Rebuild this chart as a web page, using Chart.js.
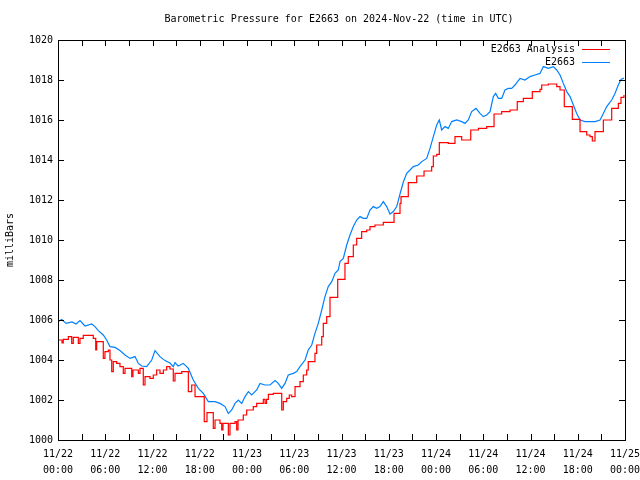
<!DOCTYPE html>
<html>
<head>
<meta charset="utf-8">
<script src="https://cdn.jsdelivr.net/npm/chart.js@4"></script>
<style>
  html, body { margin: 0; padding: 0; background: #fff; }
  canvas { display: block; }
</style>
</head>
<body>
<canvas id="chartPressure" width="640" height="480"></canvas>
<script>
// time axis: hours since 11/22 00:00 UTC
const dayLabels = ["11/22", "11/22", "11/22", "11/22", "11/23", "11/23", "11/23", "11/23", "11/24", "11/24", "11/24", "11/24", "11/25"];
const timeLabels = ["00:00", "06:00", "12:00", "18:00", "00:00", "06:00", "12:00", "18:00", "00:00", "06:00", "12:00", "18:00", "00:00"];
const yTicks = [1000, 1002, 1004, 1006, 1008, 1010, 1012, 1014, 1016, 1018, 1020];

// E2663 station readings
const stationHours = [
  0, 0.47, 1.02, 1.78, 2.29, 2.79, 3.43, 4.28, 4.70, 5.12, 5.75, 6.18, 6.60, 7.24, 7.87, 8.51,
  9.14, 9.78, 10.20, 10.63, 11.26, 11.90, 12.32, 12.95, 13.59, 14.22, 14.64, 14.86, 15.24, 15.91,
  16.55, 17.18, 17.82, 18.45, 19.09, 19.94, 20.57, 21.21, 21.63, 22.06, 22.48, 22.90, 23.33, 23.75,
  24.17, 24.60, 25.23, 25.65, 26.29, 26.92, 27.56, 27.97, 28.41, 28.83, 29.24, 29.88, 30.31, 30.73,
  31.37, 31.78, 32.22, 32.63, 33.05, 33.49, 33.90, 34.32, 34.76, 35.17, 35.59, 35.81, 36.23, 36.66,
  37.08, 37.50, 37.93, 38.35, 38.77, 39.20, 39.62, 40.04, 40.47, 40.89, 41.31, 41.74, 42.16, 42.58,
  43.01, 43.43, 43.85, 44.28, 44.70, 45.12, 45.75, 46.19, 46.82, 47.24, 47.66, 48.09, 48.42, 48.72,
  49.14, 49.56, 49.99, 50.63, 51.26, 51.68, 52.10, 52.53, 53.08, 53.59, 54.01, 54.44, 54.86, 55.28,
  55.58, 55.91, 56.34, 56.76, 57.18, 57.61, 58.03, 58.67, 59.30, 59.94, 60.57, 61.21, 61.63, 62.26,
  62.90, 63.33, 63.75, 64.17, 64.60, 65.02, 65.44, 65.87, 66.29, 66.92, 67.56, 68.19, 68.83, 69.25,
  69.68, 70.31, 70.73, 71.15, 71.49, 71.87
];
const stationValues = [
  1005.92, 1006.03, 1005.83, 1005.90, 1005.80, 1005.97, 1005.70, 1005.80, 1005.67, 1005.47, 1005.25, 1005.00, 1004.67, 1004.63, 1004.47, 1004.25,
  1004.08, 1004.17, 1003.83, 1003.70, 1003.67, 1004.00, 1004.47, 1004.17, 1003.97, 1003.85, 1003.67, 1003.87, 1003.70, 1003.83,
  1003.58, 1003.00, 1002.58, 1002.33, 1001.92, 1001.92, 1001.83, 1001.67, 1001.33, 1001.50, 1001.83, 1002.00, 1001.83, 1002.17,
  1002.42, 1002.25, 1002.50, 1002.83, 1002.75, 1002.75, 1002.97, 1002.83, 1002.58, 1002.83, 1003.25, 1003.33, 1003.42, 1003.67,
  1004.00, 1004.50, 1004.75, 1005.33, 1005.83, 1006.50, 1007.17, 1007.67, 1007.92, 1008.33, 1008.50, 1008.92, 1009.08, 1009.75,
  1010.25, 1010.67, 1011.00, 1011.17, 1011.08, 1011.08, 1011.50, 1011.67, 1011.58, 1011.67, 1011.92, 1011.67, 1011.30, 1011.42,
  1011.67, 1012.30, 1012.90, 1013.33, 1013.50, 1013.67, 1013.75, 1013.92, 1014.08, 1014.58, 1015.17, 1015.75, 1016.00, 1015.50,
  1015.67, 1015.58, 1015.92, 1016.00, 1015.92, 1015.83, 1016.00, 1016.42, 1016.58, 1016.33, 1016.17, 1016.25, 1016.42, 1017.17,
  1017.33, 1017.08, 1017.08, 1017.50, 1017.58, 1017.58, 1017.75, 1018.08, 1018.00, 1018.17, 1018.25, 1018.33, 1018.67, 1018.58,
  1018.67, 1018.50, 1018.25, 1017.83, 1017.42, 1017.17, 1016.75, 1016.33, 1016.00, 1015.92, 1015.92, 1015.92, 1016.00, 1016.33,
  1016.67, 1017.00, 1017.33, 1017.75, 1018.03, 1018.10
];

// E2663 analysis (stepped)
const analysisHours = [
  0, 0.51, 0.67, 1.31, 1.74, 1.94, 2.58, 2.79, 3.21, 4.48, 4.79, 4.91, 5.75, 5.96, 6.39, 6.60,
  6.82, 7.02, 7.45, 7.87, 8.29, 8.51, 9.36, 9.52, 10.20, 10.41, 10.83, 11.05, 11.68, 12.10, 12.53,
  12.95, 13.38, 13.80, 14.22, 14.64, 14.86, 15.71, 16.55, 16.98, 17.40, 18.57, 18.92, 19.72, 19.94,
  20.57, 20.79, 20.95, 21.63, 21.84, 22.48, 22.69, 22.86, 23.53, 23.96, 24.80, 25.23, 26.07, 26.29,
  26.48, 26.71, 27.34, 28.41, 28.61, 29.04, 29.37, 29.67, 30.10, 30.73, 31.15, 31.58, 31.78, 32.63,
  32.85, 33.49, 33.69, 34.12, 34.54, 35.52, 36.44, 36.86, 37.50, 37.93, 38.56, 39.20, 39.62, 40.25,
  41.31, 42.67, 43.43, 43.56, 44.48, 45.55, 46.48, 47.45, 47.66, 48.09, 48.42, 49.56, 50.41, 51.26,
  52.41, 53.38, 54.44, 55.37, 56.34, 57.40, 58.32, 59.09, 60.23, 61.21, 61.42, 62.26, 63.33, 63.75,
  64.29, 65.31, 66.29, 67.14, 67.56, 67.85, 68.19, 69.25, 70.31, 71.15, 71.49, 71.87
];
const analysisValues = [
  1005.00, 1004.85, 1005.03, 1005.17, 1004.83, 1005.13, 1004.83, 1005.08, 1005.23, 1005.08, 1004.50, 1004.92, 1004.08, 1004.42, 1004.50, 1004.00,
  1003.42, 1003.92, 1003.83, 1003.67, 1003.33, 1003.58, 1003.17, 1003.50, 1003.33, 1003.58, 1002.75, 1003.17, 1003.08, 1003.25, 1003.50,
  1003.33, 1003.50, 1003.67, 1003.55, 1002.95, 1003.33, 1003.42, 1002.42, 1002.75, 1002.17, 1000.92, 1001.37, 1000.58, 1001.00,
  1000.83, 1000.50, 1000.83, 1000.25, 1000.83, 1000.92, 1000.50, 1001.00, 1001.25, 1001.50, 1001.67, 1001.83, 1002.03, 1001.83,
  1002.03, 1002.28, 1002.33, 1001.50, 1001.92, 1002.08, 1002.25, 1002.17, 1002.67, 1002.92, 1003.25, 1003.50, 1003.92, 1004.33,
  1004.75, 1005.17, 1005.83, 1006.17, 1007.13, 1008.03, 1008.83, 1009.17, 1009.75, 1010.08, 1010.42, 1010.50, 1010.67, 1010.75,
  1010.88, 1011.33, 1011.83, 1012.17, 1012.87, 1013.20, 1013.45, 1013.67, 1014.20, 1014.28, 1014.87, 1014.83, 1015.17, 1015.00,
  1015.50, 1015.58, 1015.67, 1016.30, 1016.42, 1016.50, 1016.92, 1017.08, 1017.42, 1017.53, 1017.75, 1017.80, 1017.67, 1017.50,
  1016.67, 1016.03, 1015.42, 1015.25, 1015.17, 1014.95, 1015.42, 1016.00, 1016.58, 1016.83, 1017.13, 1017.25
];

const COL = {
    analysis: "#ff0000",
    station: "#0080ff",
    ink: "#000000"
};
const MONO = "'DejaVu Sans Mono', 'Liberation Mono', monospace";

const toPoints = (xs, ys) => xs.map((x, i) => ({ x: x, y: ys[i] }));

// gnuplot-like frame: box, inward ticks, title and legend
const framePlugin = {
    id: "frame",
    afterDraw(chart) {
        const ctx = chart.ctx;
        const a = chart.chartArea;
        const xs = chart.scales.x, ys = chart.scales.y;
        ctx.save();
        ctx.strokeStyle = COL.ink;
        ctx.lineWidth = 1;
        ctx.strokeRect(Math.round(a.left) + 0.5, Math.round(a.top) + 0.5,
            Math.round(a.right - a.left), Math.round(a.bottom - a.top));
        ctx.beginPath();
        xs.ticks.forEach(t => {
            const px = Math.round(xs.getPixelForValue(t.value)) + 0.5;
            ctx.moveTo(px, a.bottom); ctx.lineTo(px, a.bottom - 6);
            ctx.moveTo(px, a.top); ctx.lineTo(px, a.top + 6);
        });
        ys.ticks.forEach(t => {
            const py = Math.round(ys.getPixelForValue(t.value)) + 0.5;
            ctx.moveTo(a.left, py); ctx.lineTo(a.left + 6, py);
            ctx.moveTo(a.right, py); ctx.lineTo(a.right - 6, py);
        });
        ctx.stroke();

        ctx.fillStyle = COL.ink;
        ctx.font = "10px " + MONO;
        ctx.textBaseline = "middle";
        ctx.textAlign = "center";
        ctx.fillText("Barometric Pressure for E2663 on 2024-Nov-22 (time in UTC)", 339, 19);

        ctx.textAlign = "right";
        const items = [
            { text: "E2663 Analysis", color: COL.analysis, y: 49 },
            { text: "E2663", color: COL.station, y: 62 }
        ];
        items.forEach(it => {
            ctx.fillStyle = COL.ink;
            ctx.fillText(it.text, 575, it.y);
            ctx.beginPath();
            ctx.strokeStyle = it.color;
            ctx.moveTo(582, it.y + 0.5);
            ctx.lineTo(610, it.y + 0.5);
            ctx.stroke();
        });
        ctx.restore();
    }
};

const ctxPressure = document.getElementById("chartPressure").getContext("2d");

new Chart(ctxPressure, {
    type: "line",
    data: {
        datasets: [
            {
                label: "E2663 Analysis",
                data: toPoints(analysisHours, analysisValues),
                borderColor: COL.analysis,
                borderWidth: 1.2,
                pointRadius: 0,
                stepped: true,
                fill: false
            },
            {
                label: "E2663",
                data: toPoints(stationHours, stationValues),
                borderColor: COL.station,
                borderWidth: 1.2,
                pointRadius: 0,
                tension: 0,
                fill: false
            }
        ]
    },
    options: {
        responsive: false,
        animation: false,
        layout: { padding: { top: 40, right: 15, left: 0, bottom: 0 } },
        plugins: {
            legend: { display: false },
            title: { display: false },
            tooltip: { enabled: false }
        },
        scales: {
            x: {
                type: "linear",
                min: 0,
                max: 72,
                grid: { display: false, drawTicks: false },
                border: { display: false },
                afterFit: s => {
                    s.height = 40;
                    s.paddingLeft = 0;
                    s.paddingRight = 0;
                },
                ticks: {
                    stepSize: 3,
                    autoSkip: false,
                    maxRotation: 0,
                    padding: 6,
                    color: COL.ink,
                    font: { family: MONO, size: 10, lineHeight: 1.6 },
                    callback: v => (v % 6 === 0 ? [dayLabels[v / 6], timeLabels[v / 6]] : "")
                }
            },
            y: {
                min: 1000,
                max: 1020,
                grid: { display: false, drawTicks: false },
                border: { display: false },
                afterFit: s => {
                    s.width = 58;
                    s.paddingTop = 0;
                    s.paddingBottom = 0;
                },
                afterBuildTicks: s => { s.ticks = yTicks.map(v => ({ value: v })); },
                title: {
                    display: true,
                    text: "milliBars",
                    color: COL.ink,
                    font: { family: MONO, size: 10 },
                    padding: { top: 4, bottom: 0 }
                },
                ticks: {
                    padding: 5,
                    color: COL.ink,
                    font: { family: MONO, size: 10 },
                    callback: v => String(v)
                }
            }
        }
    },
    plugins: [framePlugin]
});
</script>
</body>
</html>
